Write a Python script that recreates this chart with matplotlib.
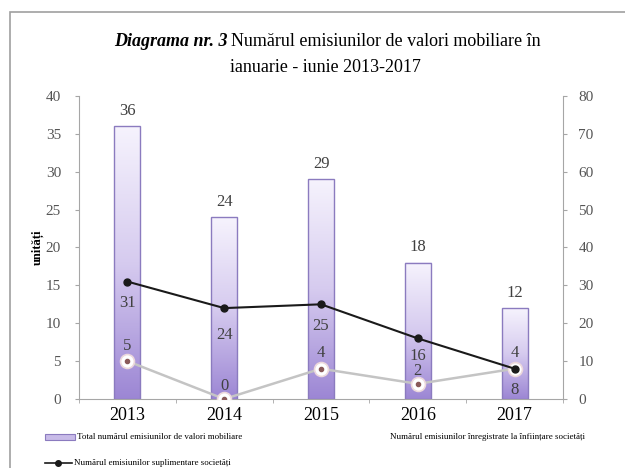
import matplotlib.pyplot as plt
import numpy as np
from matplotlib.colors import LinearSegmentedColormap
from matplotlib.patches import Rectangle
from matplotlib.lines import Line2D

plt.rcParams["font.family"] = ["Liberation Serif", "DejaVu Serif"]

# data
years = ["2013", "2014", "2015", "2016", "2017"]
total = [36, 24, 29, 18, 12]            # bars, left axis
suplimentare = [31, 24, 25, 16, 8]      # black line, right axis
infiintare = [5, 0, 4, 2, 4]            # grey line, left axis

legend_labels = [
    "Total numărul emisiunilor de valori mobiliare",
    "Numărul emisiunilor înregistrate la înființare societăți",
    "Numărul emisiunilor suplimentare societăți",
]

fig = plt.figure(figsize=(6.25, 4.68), dpi=100)
ax = fig.add_axes([79 / 625, 1 - 399 / 468, 484 / 625, 303 / 468])
ax2 = ax.twinx()

x = np.arange(len(years))
width = 0.27
axis_col = "#a6a6a6"
text_col = "#404040"

# gradient bars
cmap = LinearSegmentedColormap.from_list("lav", ["#9c86d4", "#d6cbef", "#f6f3fd"])
grad = np.linspace(0, 1, 256).reshape(-1, 1)
for xi, h in zip(x, total):
    ax.imshow(grad, extent=[xi - width / 2, xi + width / 2, 0, h], origin="lower",
              aspect="auto", cmap=cmap, zorder=2)
ax.bar(x, total, width, facecolor="none", edgecolor="#8b7bbf", linewidth=1.0, zorder=3)
for xi, h in zip(x, total):
    ax.text(xi, h + 1.0, str(h), ha="center", va="bottom", fontsize=12, color=text_col)

# grey line (left axis)
ax.plot(x, infiintare, color="#c4c4c4", linewidth=1.8, zorder=4)
ax.plot(x, infiintare, linestyle="none", marker="o", markersize=10,
        markerfacecolor="white", markeredgecolor="#ecd8dc", markeredgewidth=1.2, zorder=5)
ax.plot(x, infiintare, linestyle="none", marker="o", markersize=3,
        color="#8a5a5a", zorder=6)
grey_off = [1.0, 0.6, 1.0, 0.6, 1.0]
for xi, v, o in zip(x, infiintare, grey_off):
    ax.text(xi, v + o, str(v), ha="center", va="bottom", fontsize=12, color=text_col, zorder=7)

# black line (right axis)
ax2.plot(x, suplimentare, color="#1a1a1a", linewidth=1.5, marker="o", markersize=5, zorder=5)
black_off = [3.5, 5.0, 3.5, 2.5, 3.5]
for xi, v, o in zip(x, suplimentare, black_off):
    ax2.text(xi, v - o, str(v), ha="center", va="top", fontsize=12, color=text_col)

ax.set_xlim(-0.5, len(years) - 0.5)
ax.set_ylim(0, 40)
ax2.set_ylim(0, 80)
ax.set_yticks(np.arange(0, 41, 5))
ax2.set_yticks(np.arange(0, 81, 10))
ax.set_xticks(x)
ax.set_xticklabels(years, fontsize=13)
ax.set_xticks(np.arange(-0.5, len(years), 1), minor=True)
ax.tick_params(axis="x", which="major", length=0, pad=6)
ax.tick_params(axis="x", which="minor", length=3, color=axis_col)
ax.tick_params(axis="y", length=3, color=axis_col, labelsize=11, labelcolor="#555555", pad=10)
ax2.tick_params(axis="y", length=3, color=axis_col, labelsize=11, labelcolor="#555555", pad=8)

ax2.set_zorder(ax.get_zorder() + 1)
ax2.patch.set_visible(False)

for a in (ax, ax2):
    a.spines["top"].set_visible(False)
    a.spines["left"].set_color(axis_col)
    a.spines["right"].set_color(axis_col)
    a.spines["bottom"].set_color(axis_col)
ax.spines["right"].set_visible(False)
ax2.spines["left"].set_visible(False)
ax2.spines["bottom"].set_visible(False)

ax.set_ylabel("unități", fontsize=9, fontweight="bold", labelpad=1)

# title
fig.text(0.365, 1 - 42 / 468, "Diagrama nr. 3", ha="right", va="center",
         fontsize=13, fontstyle="italic", fontweight="bold")
fig.text(0.37, 1 - 42 / 468, "Numărul emisiunilor de valori mobiliare în",
         ha="left", va="center", fontsize=13)
fig.text(0.52, 1 - 68 / 468, "ianuarie - iunie 2013-2017", ha="center", va="center", fontsize=13)

# frame
fig.patches.append(Rectangle((10 / 625, -0.1), 1.2, 1 - 12 / 468 + 0.1, transform=fig.transFigure,
                             fill=False, edgecolor="#a0a0a0", linewidth=1.2))

# legend (manual)
ly1 = 1 - 437 / 468
ly2 = 1 - 463 / 468
fig.patches.append(Rectangle((45 / 625, ly1 - 3 / 468), 30 / 625, 6 / 468, transform=fig.transFigure,
                             facecolor="#c8bbe8", edgecolor="#8b7bbf", linewidth=0.8))
fig.text(77 / 625, ly1, legend_labels[0], ha="left", va="center", fontsize=6.5)
fig.text(390 / 625, ly1, legend_labels[1], ha="left", va="center", fontsize=6.5)
fig.lines.append(Line2D([45 / 625, 72 / 625], [ly2, ly2], transform=fig.transFigure,
                        color="#1a1a1a", linewidth=1.2))
fig.lines.append(Line2D([58 / 625], [ly2], transform=fig.transFigure,
                        color="#1a1a1a", marker="o", markersize=4))
fig.text(74 / 625, ly2, legend_labels[2], ha="left", va="center", fontsize=6.5)

fig.savefig("out.png", dpi=100)
